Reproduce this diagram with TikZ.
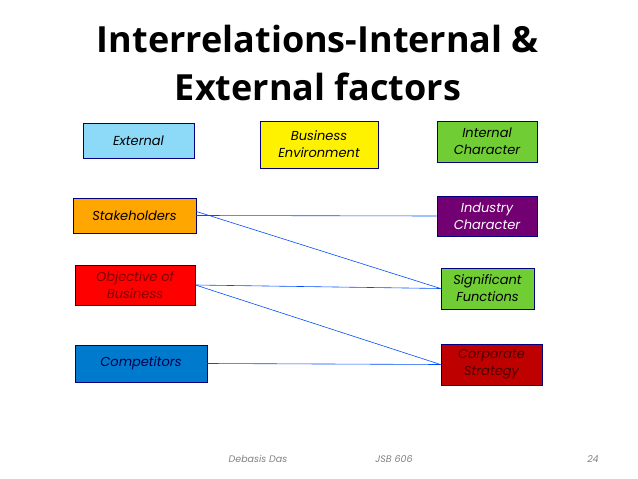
\documentclass[tikz,border=0pt]{standalone}
\usepackage{fontspec}
\setmainfont{Open Sans}
\newfontfamily\boxfont{Poppins}
\begin{document}
\begin{tikzpicture}[x=1pt,y=-1pt,
 bx/.style={draw=blue!50!black,line width=0.9pt,inner sep=0pt,align=center,font=\boxfont\fontsize{13}{17}\selectfont\itshape},
 ln/.style={draw=blue!70!cyan,line width=0.6pt},
 ft/.style={text=gray,font=\boxfont\fontsize{9.5}{12}\selectfont\itshape}]
\useasboundingbox (0,0) rectangle (638,479);
\node[font=\fontsize{36}{48}\selectfont\bfseries,align=center] (t) at (318,63) {Interrelations-Internal \&\\External factors};
\node[bx,fill=cyan!45,minimum width=111,minimum height=35] (ext) at (138.5,140.5) {External};
\node[bx,fill=yellow,minimum width=118,minimum height=47] (be) at (319,144.5) {Business\\Environment};
\node[bx,fill=green!65!black!70!yellow!80,minimum width=100,minimum height=41] (ic) at (487,141.5) {Internal\\Character};
\node[bx,fill=orange!70!yellow,minimum width=123,minimum height=35] (sh) at (134.5,215.5) {Stakeholders};
\node[bx,fill=violet!90!black,text=white,minimum width=100,minimum height=40] (ind) at (487,216) {Industry\\Character};
\node[bx,fill=red,text=red!50!black,minimum width=120,minimum height=40] (ob) at (135,285) {Objective of\\Business};
\node[bx,fill=green!65!black!70!yellow!80,minimum width=93,minimum height=41] (sf) at (487.5,288.5) {Significant\\Functions};
\node[bx,fill=blue!40!cyan!80!black,text=blue!30!black,minimum width=132,minimum height=37] (cp) at (141,363.5) {Competitors};
\node[bx,fill=red!75!black,text=red!30!black,minimum width=101,minimum height=41] (cs) at (491.5,364.5) {Corporate\\Strategy};
\draw[ln] (sh.east) -- (ind.west);
\draw[ln] ([yshift=4]sh.east) -- (sf.west);
\draw[ln] (ob.east) -- (sf.west);
\draw[ln] (ob.east) -- (cs.west);
\draw[ln] (cp.east) -- (cs.west);
\node[ft] (f1) at (258,459) {Debasis Das};
\node[ft] (f2) at (394,459) {JSB 606};
\node[ft] (f3) at (593,459) {24};
\end{tikzpicture}
\end{document}
